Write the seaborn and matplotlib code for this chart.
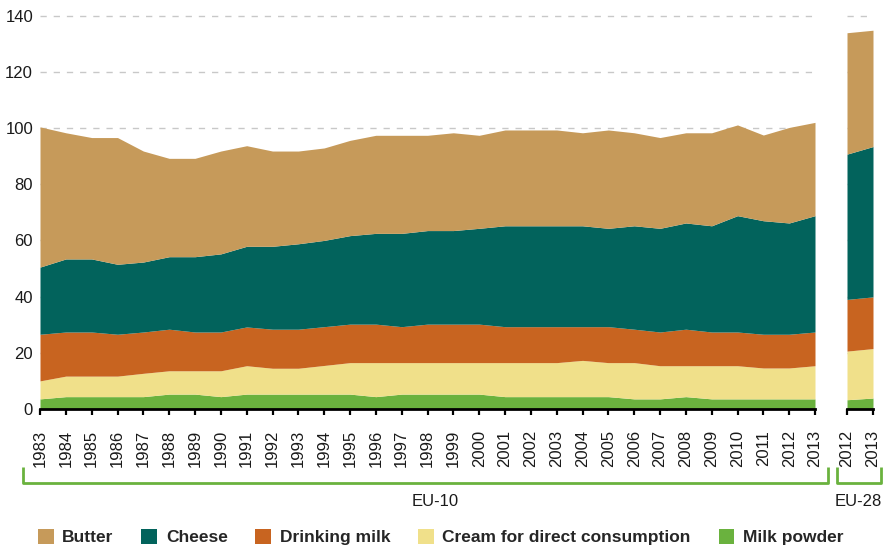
import matplotlib
matplotlib.use('Agg')
import matplotlib.pyplot as plt
import matplotlib.transforms as mtransforms
from matplotlib.patches import Patch
import seaborn as sns

# EU-10 milk product shares, 1983-2013 (stacked, bottom to top: powder, cream, drinking milk, cheese, butter)
years_eu10 = list(range(1983, 2014))
powder_eu10 = [3.6, 4.4, 4.4, 4.4, 4.4, 5.3, 5.3, 4.4, 5.3, 5.3, 5.3, 5.3, 5.3, 4.4, 5.3, 5.3,
               5.3, 5.3, 4.4, 4.4, 4.4, 4.4, 4.4, 3.6, 3.6, 4.4, 3.6, 3.6, 3.6, 3.6, 3.6]
cream_eu10 = [6.4, 7.3, 7.3, 7.3, 8.3, 8.3, 8.3, 9.2, 10.1, 9.2, 9.2, 10.2, 11.2, 12.1, 11.2, 11.2,
              11.2, 11.2, 12.1, 12.1, 12.1, 12.9, 12.1, 12.9, 11.8, 11.0, 11.8, 11.8, 11.0, 11.0, 11.8]
drinking_eu10 = [16.6, 15.7, 15.7, 14.9, 14.7, 14.8, 13.8, 13.8, 13.8, 13.9, 13.9, 13.8, 13.7, 13.7, 12.8, 13.7,
                 13.7, 13.7, 12.8, 12.8, 12.8, 12.0, 12.8, 11.9, 12.0, 13.0, 12.0, 12.0, 12.0, 12.0, 12.0]
cheese_eu10 = [23.9, 26.0, 26.0, 24.9, 24.9, 25.8, 26.8, 27.8, 28.7, 29.5, 30.4, 30.7, 31.5, 32.3, 33.2, 33.3,
               33.3, 34.1, 35.9, 35.9, 35.9, 35.9, 35.0, 36.8, 36.9, 37.8, 37.8, 41.4, 40.4, 39.6, 41.4]
butter_eu10 = [49.9, 44.9, 43.2, 45.1, 39.5, 35.0, 35.0, 36.6, 35.8, 33.9, 33.0, 32.9, 33.9, 34.9, 34.9, 33.9,
               34.8, 33.1, 34.1, 34.1, 34.1, 33.1, 35.0, 33.1, 32.3, 32.1, 33.1, 32.3, 30.5, 34.0, 33.2]

# EU-28, 2012-2013
years_eu28 = [2012, 2013]
powder_eu28 = [3.3, 3.9]
cream_eu28 = [17.3, 17.6]
drinking_eu28 = [18.4, 18.4]
cheese_eu28 = [51.7, 53.5]
butter_eu28 = [43.2, 41.4]

labels = ['Butter', 'Cheese', 'Drinking milk', 'Cream for direct consumption', 'Milk powder']
colors = ['#c69a5a', '#02635c', '#c86420', '#f0e08a', '#6ab23e']
yticks = [0, 20, 40, 60, 80, 100, 120, 140]

sns.set_theme(style='white')
plt.rcParams['font.family'] = ['Liberation Sans', 'DejaVu Sans']
green = '#6ab23e'

fig = plt.figure(figsize=(8.88, 5.47), dpi=100)
W, H = 888, 547
ybot = 1 - 409 / H
hgt = 142 * 2.81 / H
ax = fig.add_axes([40 / W, ybot, 775 / W, hgt])
ax2 = fig.add_axes([847 / W, ybot, 26 / W, hgt])

stack_colors = colors[::-1]
ax.stackplot(years_eu10, powder_eu10, cream_eu10, drinking_eu10, cheese_eu10, butter_eu10,
             colors=stack_colors, linewidth=0)
ax2.stackplot(years_eu28, powder_eu28, cream_eu28, drinking_eu28, cheese_eu28, butter_eu28,
              colors=stack_colors, linewidth=0)

for a, yrs in [(ax, years_eu10), (ax2, years_eu28)]:
    a.set_xlim(yrs[0], yrs[-1])
    a.set_ylim(0, 142)
    a.set_yticks(yticks)
    a.set_xticks(yrs)
    a.set_xticklabels([str(y) for y in yrs], rotation=90, fontsize=12)
    a.yaxis.grid(True, color='#c8c8c8', linestyle=(0, (4.5, 5)), linewidth=1)
    a.xaxis.grid(False)
    a.set_axisbelow(True)
    for s in ['left', 'right', 'top']:
        a.spines[s].set_visible(False)
    a.spines['bottom'].set_color('black')
    a.spines['bottom'].set_linewidth(2)
    a.tick_params(axis='x', bottom=True, direction='out', length=4, width=1.6,
                  color='black', pad=11, labelcolor='#1a1a1a')
    a.tick_params(axis='y', left=False, length=0, pad=5, labelsize=12, labelcolor='#1a1a1a')
ax2.set_yticklabels([])
ax.set_ylabel('')
ax.set_xlabel('')

# Brackets under the tick labels
def bracket(a, x0, x1, text, tx):
    tr = mtransforms.blended_transform_factory(a.transData, fig.transFigure)
    y_top = 1 - 467 / H
    y_bot = 1 - 483 / H
    a.plot([x0, x0, x1, x1], [y_top, y_bot, y_bot, y_top], transform=tr, color=green,
           linewidth=2, clip_on=False, solid_joinstyle='round', solid_capstyle='butt')
    a.text(tx, 1 - 502 / H, text, transform=tr, ha='center', va='center',
           fontsize=12, color='#1a1a1a')

bracket(ax, 1983 - 0.66, 2013 + 0.5, 'EU-10', 1998.3)
bracket(ax2, 2012 - 0.38, 2013 + 0.31, 'EU-28', 2012.45)

handles = [Patch(facecolor=c, edgecolor='none', label=l) for c, l in zip(colors, labels)]
leg = fig.legend(handles=handles, loc='center left', bbox_to_anchor=(38 / W, 1 - 537 / H),
                 ncol=5, frameon=False, prop={'weight': 'bold', 'size': 12.5},
                 handlelength=0.9, handleheight=0.95, handletextpad=0.5,
                 columnspacing=1.6, borderpad=0, borderaxespad=0)

fig.savefig('out.png', dpi=100)
